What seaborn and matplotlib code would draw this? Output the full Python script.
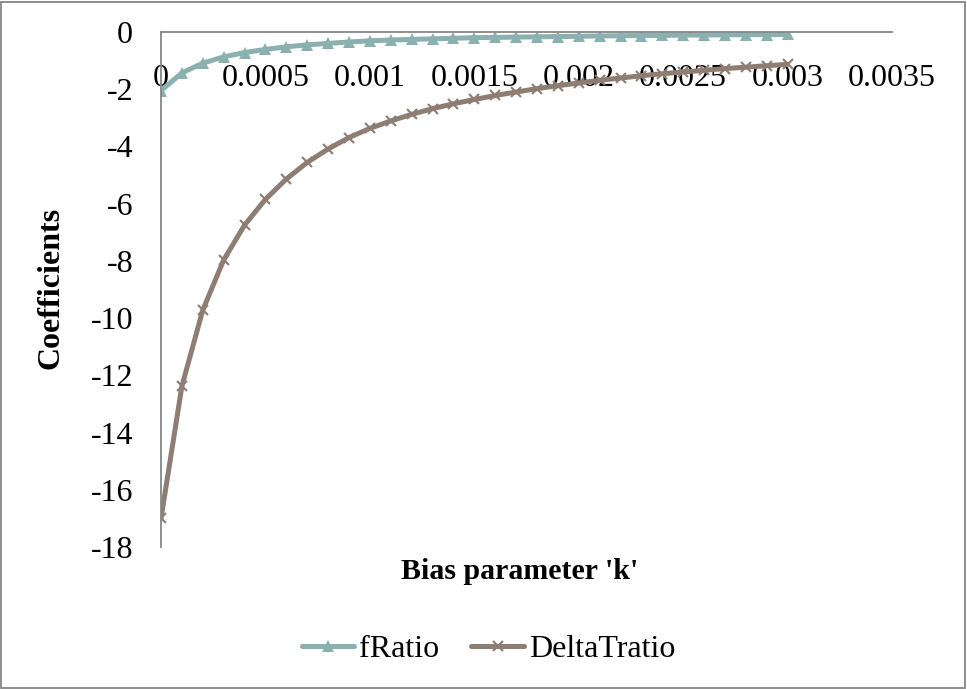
import matplotlib
matplotlib.use("Agg")
import matplotlib.pyplot as plt
import pandas as pd
import seaborn as sns
from matplotlib.patches import Rectangle

# bias parameter k, 0 .. 0.003 in steps of 0.0001
k_values = [i / 10000 for i in range(31)]

f_ratio = [-2.05, -1.43, -1.09, -0.87, -0.72, -0.61, -0.52, -0.45, -0.40, -0.35,
           -0.31, -0.28, -0.26, -0.24, -0.22, -0.20, -0.19, -0.18, -0.17, -0.16,
           -0.15, -0.14, -0.13, -0.125, -0.12, -0.11, -0.105, -0.10, -0.095, -0.09,
           -0.085]

delta_t_ratio = [-17.0, -12.38, -9.72, -7.97, -6.75, -5.85, -5.14, -4.56, -4.09, -3.69,
                 -3.37, -3.11, -2.88, -2.68, -2.51, -2.36, -2.22, -2.10, -1.98, -1.88,
                 -1.78, -1.69, -1.61, -1.53, -1.46, -1.40, -1.34, -1.28, -1.23, -1.18,
                 -1.13]

x_ticks = [0, 0.0005, 0.001, 0.0015, 0.002, 0.0025, 0.003, 0.0035]
x_tick_labels = ["0", "0.0005", "0.001", "0.0015", "0.002", "0.0025", "0.003", "0.0035"]
y_ticks = list(range(-18, 1, 2))

df = pd.DataFrame({"k": k_values, "fRatio": f_ratio, "DeltaTratio": delta_t_ratio})

sns.set_theme(style="white")
plt.rcParams["font.family"] = ["Liberation Serif", "DejaVu Serif"]
plt.rcParams["text.color"] = "black"
plt.rcParams["axes.labelcolor"] = "black"

fig = plt.figure(figsize=(9.67, 6.89), dpi=100)
ax = fig.add_axes([0.1665, 0.2061, 0.756, 0.7475])

sns.lineplot(data=df, x="k", y="fRatio", ax=ax, color="#8AB0AF", linewidth=3.6,
             marker="^", markersize=8, markeredgewidth=0, label="fRatio")
sns.lineplot(data=df, x="k", y="DeltaTratio", ax=ax, color="#8E7D72", linewidth=3.6,
             marker="x", markersize=7, markeredgewidth=1.5, markeredgecolor="#8E7D72",
             label="DeltaTratio")

ax.set_xlim(0, 0.0035)
ax.set_ylim(-18, 0)
ax.set_xticks(x_ticks)
ax.set_xticklabels(x_tick_labels)
ax.set_yticks(y_ticks)
ax.set_yticklabels([str(v) for v in y_ticks])

for side in ["right", "top"]:
    ax.spines[side].set_visible(False)
ax.spines["bottom"].set_position(("data", 0))
for side in ["left", "bottom"]:
    ax.spines[side].set_color("#868686")
    ax.spines[side].set_linewidth(1.3)

ax.tick_params(axis="x", length=0, pad=23, labelsize=23, colors="black")
ax.tick_params(axis="y", length=0, pad=20, labelsize=23, colors="black")

ax.set_xlabel("Bias parameter 'k'", fontsize=21.5, fontweight="bold")
ax.xaxis.set_label_coords(0.491, -0.022)
ax.set_ylabel("Coefficients", fontsize=23, fontweight="bold")
ax.yaxis.set_label_coords(-0.13, 0.503)

handles, labels = ax.get_legend_handles_labels()
ax.get_legend().remove()
fig.legend(handles, labels, ncol=2, loc="center", bbox_to_anchor=(0.505, 0.057),
           frameon=False, fontsize=23, handlelength=1.65, handletextpad=0.15,
           columnspacing=1.0)

fig.patches.append(Rectangle((0.001, 0.0015), 0.997, 0.996, transform=fig.transFigure,
                             fill=False, edgecolor="#868686", linewidth=1.3))

fig.savefig("out.png", dpi=100)
